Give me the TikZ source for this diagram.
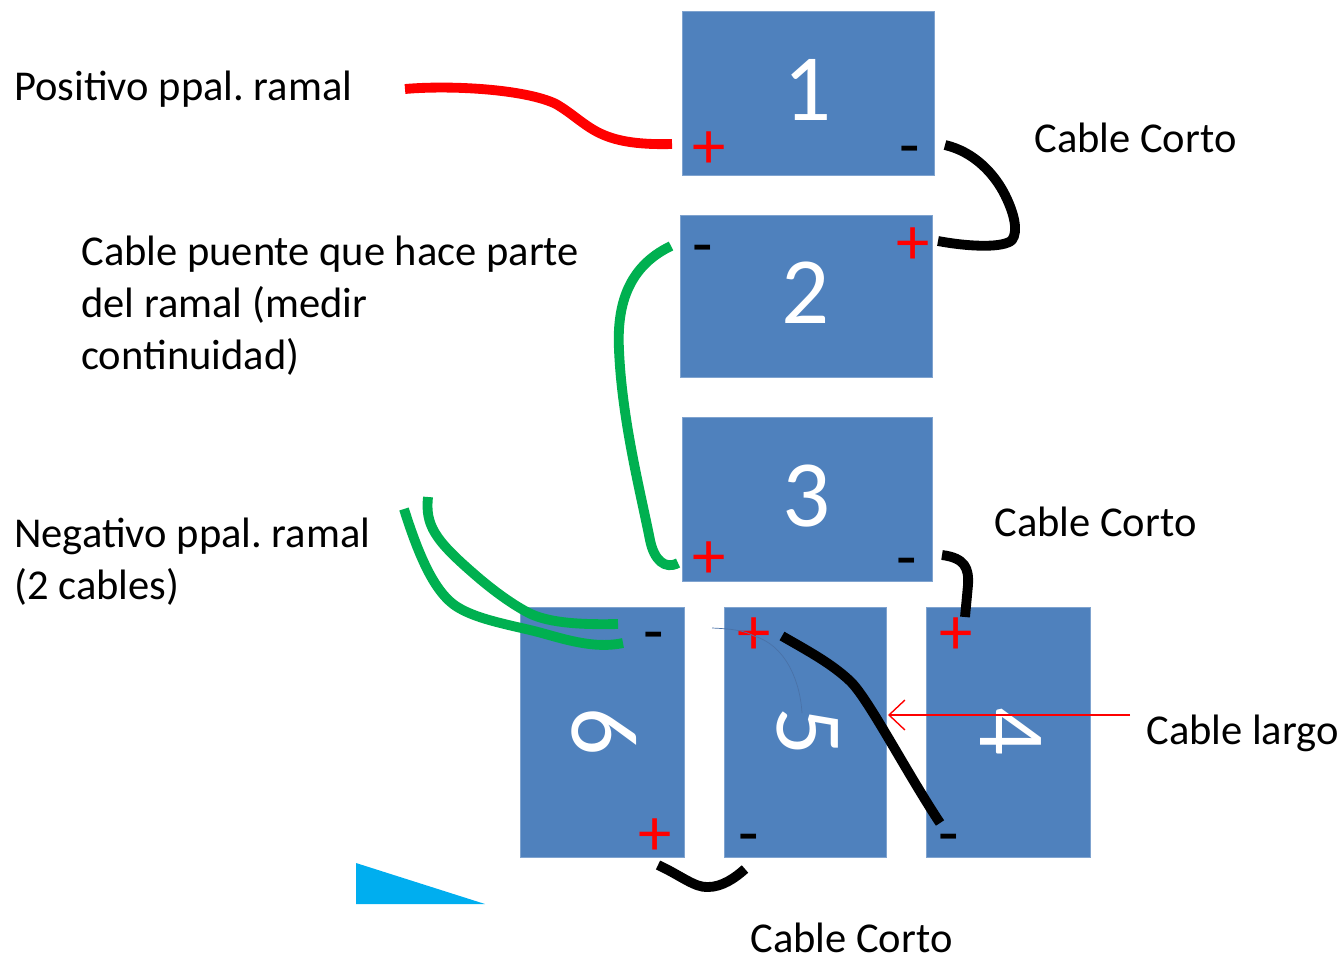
\documentclass[tikz,border=0pt]{standalone}
\usepackage{fontspec}
\setmainfont{Carlito}
\usetikzlibrary{arrows.meta}
\definecolor{CellClr}{HTML}{4F81BD}
\definecolor{CellEdgeClr}{HTML}{7FA3CF}
\definecolor{FaintClr}{HTML}{4A72A8}
\definecolor{GreenClr}{HTML}{00B050}
\definecolor{WedgeClr}{HTML}{00AEEF}
\tikzset{
  cell/.style={rectangle,fill=CellClr,draw=CellEdgeClr,line width=.3pt,outer sep=0pt,inner sep=0pt,
    text=white,text depth=3.4pt,font=\fontsize{54}{54}\selectfont},
  note/.style={anchor=base west,inner sep=0pt,font=\frenchspacing\fontsize{24.2}{29.6}\selectfont,align=left},
  plusmark/.style={inner sep=0pt,text=red,yshift=-.06cm,font=\fontsize{38}{38}\selectfont},
  minusmark/.style={inner sep=0pt,text=black,yshift=-.2cm,font=\fontsize{38}{38}\selectfont},
  cable/.style={line width=5.6pt,line cap=butt,line join=round},
}

\begin{document}
\begin{tikzpicture}[x=.02cm,y=-.02cm]
\useasboundingbox (0,0) rectangle (1344,957);

\fill[WedgeClr] (356,863) -- (485,904) -- (356,904) -- cycle;

\node[cell,minimum width=5.04cm,minimum height=3.28cm] (cellA) at (808,93) {1};
\node[cell,minimum width=5.04cm,minimum height=3.24cm] (cellB) at (806,296) {2};
\node[cell,minimum width=5cm,minimum height=3.28cm] (cellC) at (807,499) {3};
\node[cell,rotate=-90,minimum width=5cm,minimum height=3.28cm] (cellD) at (1008,732) {4};
\node[cell,rotate=-90,minimum width=5cm,minimum height=3.24cm] (cellE) at (805,732) {5};
\node[cell,rotate=-90,minimum width=5cm,minimum height=3.28cm] (cellF) at (602,732) {6};

\node[plusmark] (posA) at (709,147) {+};
\node[minusmark] (negA) at (910,147) {-};
\node[plusmark] (posB) at (913,243) {+};
\node[minusmark] (negB) at (703,246) {-};
\node[plusmark] (posC) at (709,557) {+};
\node[minusmark] (negC) at (907,559) {-};
\node[plusmark] (posD) at (956,633) {+};
\node[minusmark] (negD) at (949,835) {-};
\node[plusmark] (posE) at (754,633) {+};
\node[minusmark] (negE) at (749,835) {-};
\node[plusmark] (posF) at (655,834) {+};
\node[minusmark] (negF) at (654,633) {-};

\node[note] (lblPos) at (14,100) {Positivo ppal. ramal};
\node[note] (lblCortoA) at (1034,152) {Cable Corto};
\node[note,anchor=north west] (lblBridge) at (81,236) {Cable puente que hace parte\\del ramal (medir\\continuidad)};
\node[note,anchor=north west] (lblNeg) at (14,518) {Negativo ppal. ramal\\(2 cables)};
\node[note] (lblCortoB) at (994,536) {Cable Corto};
\node[note] (lblLargo) at (1146,744) {Cable largo};
\node[note] (lblCortoC) at (750,952) {Cable Corto};

\coordinate (redFree) at (405,89);
\coordinate (redEnd) at (672,144);
\coordinate (shortAa) at (945,145);
\coordinate (shortAb) at (938,241);
\coordinate (bridgeA) at (671,246);
\coordinate (bridgeB) at (678,563);
\coordinate (shortBa) at (942,555);
\coordinate (shortBb) at (965,617);
\coordinate (longA) at (782,636);
\coordinate (longB) at (940,823);
\coordinate (shortCa) at (658,865);
\coordinate (shortCb) at (745,869);
\coordinate (negFreeA) at (404,509);
\coordinate (negEndA) at (623,643);
\coordinate (negFreeB) at (428,497);
\coordinate (negEndB) at (618,624);
\coordinate (arrowTail) at (1130,715);
\coordinate (arrowHead) at (888,715);
\coordinate (faintA) at (712,628);
\coordinate (faintB) at (802,713);

% thin strokes left under the marks
\draw[FaintClr,line width=.4pt] (faintA) .. controls (735,629) and (745,631) .. (posE.center)
  .. controls (785,645) and (800,680) .. (faintB);

\draw[cable,red] (redFree) .. controls (450,85) and (525,89) .. (556,104)
  .. controls (590,124) and (595,146) .. (redEnd);
\draw[cable] (shortAa) .. controls (975,152) and (995,175) .. (1005,195)
  .. controls (1015,215) and (1018,232) .. (1012,240)
  .. controls (1004,248) and (970,247) .. (shortAb);
\draw[cable,GreenClr] (bridgeA) .. controls (625,268) and (617,310) .. (619,350)
  .. controls (622,420) and (640,490) .. (650,540) .. controls (654,560) and (665,570) .. (bridgeB);
\draw[cable] (shortBa) .. controls (965,558) and (969,568) .. (968,585) -- (shortBb);
\draw[cable] (longA) .. controls (810,652) and (832,664) .. (850,681)
  .. controls (868,698) and (905,770) .. (longB);
\draw[cable] (shortCa) .. controls (680,875) and (695,888) .. (708,887)
  .. controls (722,887) and (735,878) .. (shortCb);
\draw[cable,GreenClr] (negFreeA) .. controls (420,560) and (435,590) .. (453,604)
  .. controls (470,617) and (500,623) .. (530,630)
  .. controls (556,636) and (590,650) .. (negEndA);
\draw[cable,GreenClr] (negFreeB) .. controls (425,525) and (435,540) .. (473,573)
  .. controls (490,588) and (510,603) .. (527,612)
  .. controls (545,622) and (575,625) .. (negEndB);

\draw[-{Straight Barb[length=9pt,width=17pt]},red,line width=.8pt] (arrowTail) -- (arrowHead);
\end{tikzpicture}
\end{document}
